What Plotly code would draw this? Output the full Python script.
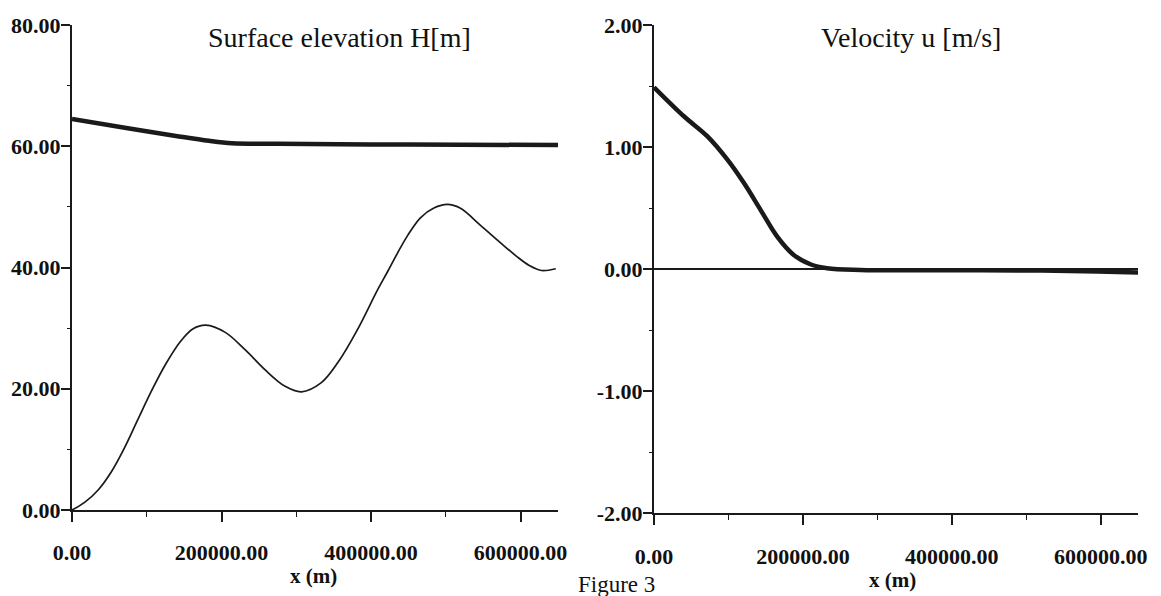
import plotly.graph_objects as go

# ---- data ----
x_surface = [0, 72600, 139000, 183000, 214000, 276000, 400000, 520000, 655000]
surface_elev = [64.5, 63.0, 61.7, 60.9, 60.5, 60.4, 60.3, 60.25, 60.2]

x_bed = [0, 17300, 35000, 52700, 70000, 88000, 107000, 125000, 145000, 162000,
         179000, 205000, 231800, 258400, 285000, 307000, 333500, 356000, 382000,
         409000, 422000, 435000, 449000, 466000, 484000, 502000, 519000, 546000,
         572000, 595000, 612000, 628000, 647000]
bed_elev = [0, 1.3, 3.3, 6.3, 10.2, 14.9, 19.8, 24.0, 27.8, 29.9,
            30.5, 29.3, 26.4, 23.1, 20.4, 19.5, 21.0, 24.4, 29.8,
            36.4, 39.3, 42.3, 45.3, 48.2, 49.8, 50.4, 49.8, 47.0,
            44.2, 41.8, 40.3, 39.5, 39.8]

x_vel = [0, 40500, 71800, 98600, 120800, 143100, 165500, 187700, 210000,
         232400, 277000, 400000, 520000, 596000, 655000]
velocity = [1.49, 1.25, 1.087, 0.896, 0.704, 0.485, 0.265, 0.115, 0.039,
            0.006, -0.008, -0.01, -0.012, -0.02, -0.03]

left_yticks = [0, 20, 40, 60, 80]
left_yticklabels = ["0.00", "20.00", "40.00", "60.00", "80.00"]
right_yticks = [-2, -1, 0, 1, 2]
right_yticklabels = ["-2.00", "-1.00", "0.00", "1.00", "2.00"]
xticks = [0, 200000, 400000, 600000]
xticklabels = ["0.00", "200000.00", "400000.00", "600000.00"]

titles = ["Surface elevation H[m]", "Velocity u [m/s]"]
xlabel = "x (m)"
caption = "Figure 3"

W, H = 1161, 596
SERIF = "Liberation Serif, Times New Roman, serif"
INK = "#1a1a1a"

fig = go.Figure()
fig.add_trace(go.Scatter(x=x_surface, y=surface_elev, mode="lines",
                         line=dict(color=INK, width=4.5, shape="spline", smoothing=1.0),
                         xaxis="x", yaxis="y", showlegend=False))
fig.add_trace(go.Scatter(x=x_bed, y=bed_elev, mode="lines",
                         line=dict(color=INK, width=1.7, shape="spline", smoothing=1.0),
                         xaxis="x", yaxis="y", showlegend=False))
fig.add_trace(go.Scatter(x=x_vel, y=velocity, mode="lines",
                         line=dict(color=INK, width=4.5, shape="spline", smoothing=1.0),
                         xaxis="x2", yaxis="y2", showlegend=False))

tickfont = dict(family=SERIF, size=22, color="#111", weight="bold")
axcommon = dict(showgrid=False, showline=True, linecolor=INK, linewidth=2, automargin=False,
                ticks="outside", tickcolor=INK, tickwidth=1.5, tickfont=tickfont)


def px_x(p):
    return p / W


def px_y(p):
    return 1 - p / H


fig.update_layout(
    width=W, height=H,
    margin=dict(l=0, r=0, t=0, b=0),
    paper_bgcolor="white", plot_bgcolor="white",
    xaxis=dict(axcommon, domain=[px_x(72), px_x(558)], range=[0, 650000],
               tickvals=xticks, ticktext=xticklabels, ticklen=10, ticklabelstandoff=12,
               zeroline=False, anchor="y",
               minor=dict(dtick=100000, ticklen=5, ticks="outside", tickcolor=INK, tickwidth=1.2)),
    yaxis=dict(axcommon, domain=[px_y(510), px_y(25)], range=[0, 80],
               tickvals=left_yticks, ticktext=left_yticklabels, ticklen=9, ticklabelstandoff=-4,
               zeroline=False, anchor="x",
               minor=dict(dtick=10, ticklen=3, ticks="outside", tickcolor=INK, tickwidth=1.2)),
    xaxis2=dict(axcommon, domain=[px_x(654), px_x(1138)], range=[0, 650000],
                tickvals=xticks, ticktext=xticklabels, ticklen=10, ticklabelstandoff=13,
                zeroline=False, anchor="y2",
                minor=dict(dtick=100000, ticklen=5, ticks="outside", tickcolor=INK, tickwidth=1.2)),
    yaxis2=dict(axcommon, domain=[px_y(513), px_y(25)], range=[-2, 2],
                tickvals=right_yticks, ticktext=right_yticklabels, ticklen=9, ticklabelstandoff=-4,
                anchor="x2", zeroline=True, zerolinecolor=INK, zerolinewidth=1.5,
                minor=dict(dtick=0.5, ticklen=3, ticks="outside", tickcolor=INK, tickwidth=1.2)),
)

fig.add_annotation(text=titles[0], xref="paper", yref="paper", x=px_x(339), y=px_y(37),
                   xanchor="center", yanchor="middle", showarrow=False,
                   font=dict(family=SERIF, size=28, color="#111"))
fig.add_annotation(text=titles[1], xref="paper", yref="paper", x=px_x(911), y=px_y(37),
                   xanchor="center", yanchor="middle", showarrow=False,
                   font=dict(family=SERIF, size=28, color="#111"))
fig.add_annotation(text="<b>" + xlabel + "</b>", xref="paper", yref="paper", x=px_x(313), y=px_y(576),
                   xanchor="center", yanchor="middle", showarrow=False,
                   font=dict(family=SERIF, size=21, color="#111"))
fig.add_annotation(text="<b>" + xlabel + "</b>", xref="paper", yref="paper", x=px_x(892), y=px_y(580),
                   xanchor="center", yanchor="middle", showarrow=False,
                   font=dict(family=SERIF, size=21, color="#111"))
fig.add_annotation(text=caption, xref="paper", yref="paper", x=px_x(616), y=px_y(570),
                   xanchor="center", yanchor="top", showarrow=False,
                   font=dict(family=SERIF, size=23, color="#111"))

fig.write_html("out.html", config={"displayModeBar": False},
               post_script="document.body.style.margin='0';document.body.style.overflow='hidden';")
